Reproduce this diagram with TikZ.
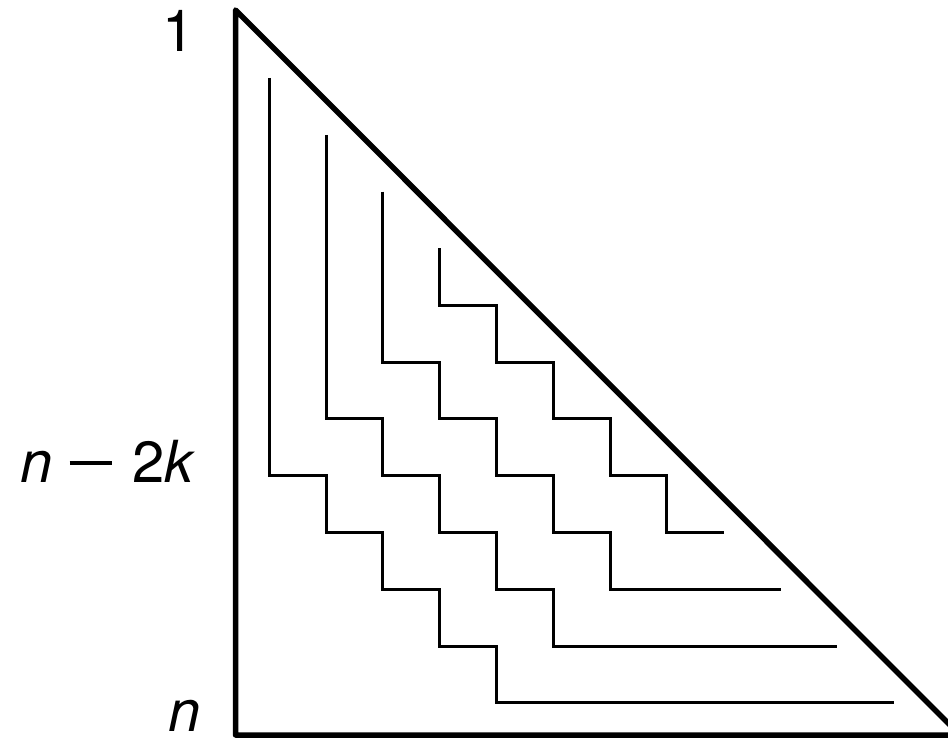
\documentclass[tikz,border=0pt]{standalone}
\usepackage{fontspec}
\setmainfont{TeX Gyre Heros}
\begin{document}
\begin{tikzpicture}[x=1pt,y=-1pt,
  tri/.style={line width=5.5pt,line join=round},
  stair/.style={line width=3pt,line join=miter},
  lab/.style={font=\fontsize{58}{60}\selectfont,inner sep=0pt,anchor=base east}]
\useasboundingbox (0,0) rectangle (948,738);
\begin{scope}
  \clip (0,0) rectangle (948,738);
  \draw[tri] (235.5,10) -- (235.5,735) -- (960,735) -- cycle;
\end{scope}
\begin{scope}[shift={(269.3pt,-78pt)},x=56.8pt,y=-56.8pt]
  \foreach \k in {0,1,2,3} {
    \draw[stair] (\k,\k) |- (\k+1,7-\k) |- (\k+2,8-\k) |- (\k+3,9-\k)
      |- (\k+4,10-\k) |- (11-\k,11-\k);
  }
\end{scope}
\node[lab] (one) at (195,52) {1};
\node[lab] (nk) at (196,482) {\textit{n}\hspace{17pt}\rule[17pt]{42pt}{4pt}\hspace{21pt}2\textit{k}};
\node[lab] (nn) at (201,731) {\textit{n}};
\end{tikzpicture}
\end{document}
